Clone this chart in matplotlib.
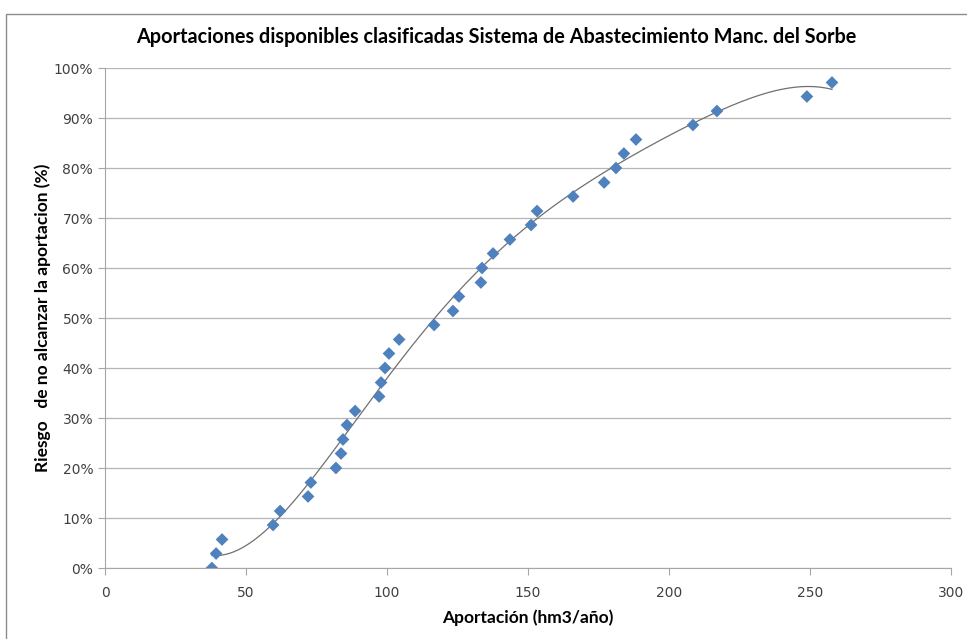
import numpy as np
import matplotlib.pyplot as plt
from matplotlib.ticker import PercentFormatter, MultipleLocator
from matplotlib.patches import Rectangle

# Aportación (hm3/año) y riesgo de no alcanzarla (%)
aportacion = [37.9, 39.4, 41.5, 59.6, 62.1, 72.0, 73.0, 81.9, 83.7, 84.4,
              85.8, 88.7, 97.2, 97.9, 99.3, 100.7, 104.3, 116.7, 123.4, 125.5,
              133.3, 133.7, 137.6, 143.6, 151.1, 153.2, 166.0, 177.0, 181.2, 184.0,
              188.3, 208.5, 217.0, 248.9, 257.8]
riesgo = [0.0, 2.9, 5.7, 8.6, 11.4, 14.3, 17.1, 20.0, 22.9, 25.7,
          28.6, 31.4, 34.3, 37.1, 40.0, 42.9, 45.7, 48.6, 51.4, 54.3,
          57.1, 60.0, 62.9, 65.7, 68.6, 71.4, 74.3, 77.1, 80.0, 82.9,
          85.7, 88.6, 91.4, 94.3, 97.1]

titulo = "Aportaciones disponibles clasificadas Sistema de Abastecimiento Manc. del Sorbe"
xlabel = "Aportación (hm3/año)"
ylabel = "Riesgo   de no alcanzar la aportacion (%)"

x = np.array(aportacion)
y = np.array(riesgo)

fig = plt.figure(figsize=(9.67, 6.39), dpi=100)
ax = fig.add_axes([105 / 967, 71 / 639, 846 / 967, 500 / 639])

# marco del gráfico
fig.patches.append(Rectangle((6 / 967, -0.05), 1.2, (639 - 14) / 639 + 0.05,
                             transform=fig.transFigure, fill=False,
                             edgecolor="#8c8c8c", linewidth=1.0))

# línea de tendencia polinómica
coef = np.polyfit(x, y, 5)
xs = np.linspace(x.min(), x.max(), 200)
ax.plot(xs, np.poly1d(coef)(xs), color="#707070", linewidth=0.9, zorder=3)

ax.scatter(x, y, marker="D", s=42, color="#4F81BD", edgecolors="none", zorder=4)

ax.set_xlim(0, 300)
ax.set_ylim(0, 100)
ax.xaxis.set_major_locator(MultipleLocator(50))
ax.yaxis.set_major_locator(MultipleLocator(10))
ax.yaxis.set_major_formatter(PercentFormatter(decimals=0))
ax.grid(axis="y", color="#b5b5b5", linewidth=0.9)
ax.set_axisbelow(True)

for s in ["top", "right"]:
    ax.spines[s].set_visible(False)
for s in ["left", "bottom"]:
    ax.spines[s].set_color("#a6a6a6")
ax.tick_params(colors="#a6a6a6", labelcolor="#404040", length=5, labelsize=10)
ax.tick_params(axis="x", pad=8)

fig.text(496 / 967, 1 - 37 / 639, titulo, ha="center", va="center",
         fontsize=14.3, fontweight="bold", family="Lato")
ax.set_xlabel(xlabel, fontsize=12.5, fontweight="bold", family="Lato", labelpad=7)
ax.set_ylabel(ylabel, fontsize=12.5, fontweight="bold", family="Lato", labelpad=2)

fig.savefig("out.png", dpi=100)
